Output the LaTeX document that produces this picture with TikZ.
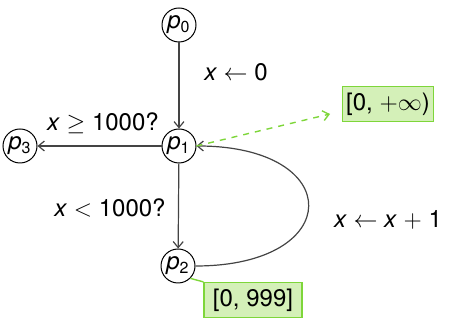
\documentclass[tikz,border=0pt]{standalone}
\usepackage{fontspec}
\setmainfont{TeX Gyre Heros}
\usetikzlibrary{arrows.meta}
\definecolor{boxfill}{HTML}{D4F0B8}
\definecolor{boxdraw}{HTML}{7ED63A}
\definecolor{edgegray}{HTML}{444444}
\newcommand{\vx}{\textit{x}}
\newcommand{\vp}[1]{\textit{p}\textsubscript{#1}}
\begin{document}
\begin{tikzpicture}[x=0.5pt,y=-0.5pt,font=\fontsize{12}{14}\selectfont,
  state/.style={circle,draw,line width=0.5pt,minimum size=17pt,inner sep=0pt},
  edge/.style={draw=edgegray,line width=0.6pt,-{Straight Barb[length=3pt,width=5pt]}},
  annot/.style={draw=boxdraw,fill=boxfill,line width=0.6pt,minimum height=17.5pt,inner sep=2pt},
  lbl/.style={inner sep=1pt}]
\useasboundingbox (0,0) rectangle (454,324);
\node[state] (p0) at (179,25) {\vp{0}};
\node[state] (p1) at (179,146) {\vp{1}};
\node[state] (p3) at (20,146) {\vp{3}};
\node[state] (p2) at (178,266) {\vp{2}};
\draw[edge] (p0) -- (p1);
\draw[edge] (p1) -- (p3);
\draw[edge] (p1) -- (p2);
\draw[edge] (p2.east) .. controls +(150,0) and +(150,0) .. (p1.east);
\node[lbl] (l0) at (236,72) {\vx\ $\leftarrow$ 0};
\node[lbl] (l1) at (103,123) {\vx\ $\geq$ 1000?};
\node[lbl] (l2) at (110,208) {\vx\ $<$ 1000?};
\node[lbl] (l3) at (388,220) {\vx\ $\leftarrow$ \vx\ $+$ 1};
\node[annot,minimum width=43.5pt] (b1) at (388,104) {[0, $+\infty$)};
\node[annot,minimum width=49pt] (b2) at (253,300) {[0, 999]};
\coordinate (tip) at (330,114);
\draw[boxdraw,line width=0.7pt,dashed,-{Straight Barb[length=3pt,width=5pt]}] (p1.east) -- (tip);
\draw[boxdraw,line width=0.7pt] (p2.south east) -- (b2.north west);
\end{tikzpicture}
\end{document}
